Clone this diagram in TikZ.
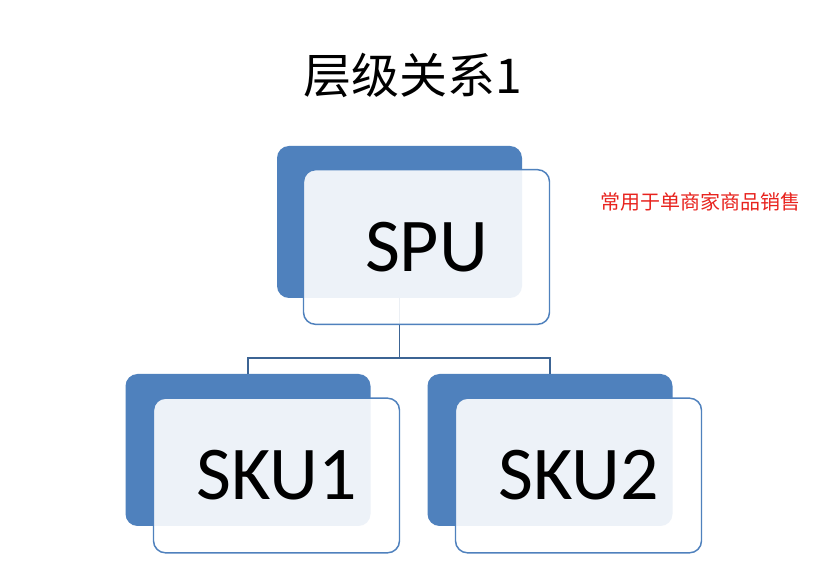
\documentclass[tikz,border=0pt]{standalone}
\usepackage{fontspec}
\setmainfont{Carlito}
\newfontfamily\cjk{Noto Sans CJK SC}
\usepackage{tikz}
\usetikzlibrary{positioning, calc}
\usepackage{xcolor}
\definecolor{OfficeBlue}{HTML}{4F81BD}
\definecolor{OfficeLine}{HTML}{3C6494}
\definecolor{NoteRed}{HTML}{E8231E}
\tikzset{
    % Card styles - dark card behind, light card in front
    backcard/.style={
        rectangle,
        rounded corners=9pt,
        fill=OfficeBlue,
        draw=none,
        minimum width=183.75pt,
        minimum height=114pt
    },
    frontcard/.style={
        rectangle,
        rounded corners=9pt,
        draw=OfficeBlue,
        line width=1.1pt,
        fill=white,
        fill opacity=0.9,
        text opacity=1,
        minimum width=184.5pt,
        minimum height=116pt,
        text centered,
        font=\fontsize{57}{60}\selectfont
    },
    % Connector style
    treeline/.style={
        draw=OfficeLine,
        line width=1.4pt
    }
}
\begin{document}
\begin{tikzpicture}[x=0.75pt,y=-0.75pt]
    \useasboundingbox[fill=white] (0,0) rectangle (826,570);

    % Title
    \node[font=\cjk\fontsize{36}{40}\selectfont] (title) at (413,75) {层级关系1};

    % Back cards
    \node[backcard] (spuback) at (399.5,222) {};
    \node[backcard] (skuoneback) at (248,450) {};
    \node[backcard] (skutwoback) at (550,450) {};

    % Tree connectors
    \coordinate (bus) at (399.5,358);
    \draw[treeline] (spuback.south) -- (spuback.south |- bus) -| (skuoneback.north);
    \draw[treeline] (spuback.south |- bus) -| (skutwoback.north);

    % Front cards
    \node[frontcard] (spu) at (426.5,247) {SPU};
    \node[frontcard] (skuone) at (276.5,475.5) {SKU1};
    \node[frontcard] (skutwo) at (578.5,475.5) {SKU2};

    % Note
    \node[anchor=west, font=\cjk\fontsize{15}{18}\selectfont, text=NoteRed] (note) at (596,202) {常用于单商家商品销售};
\end{tikzpicture}
\end{document}
